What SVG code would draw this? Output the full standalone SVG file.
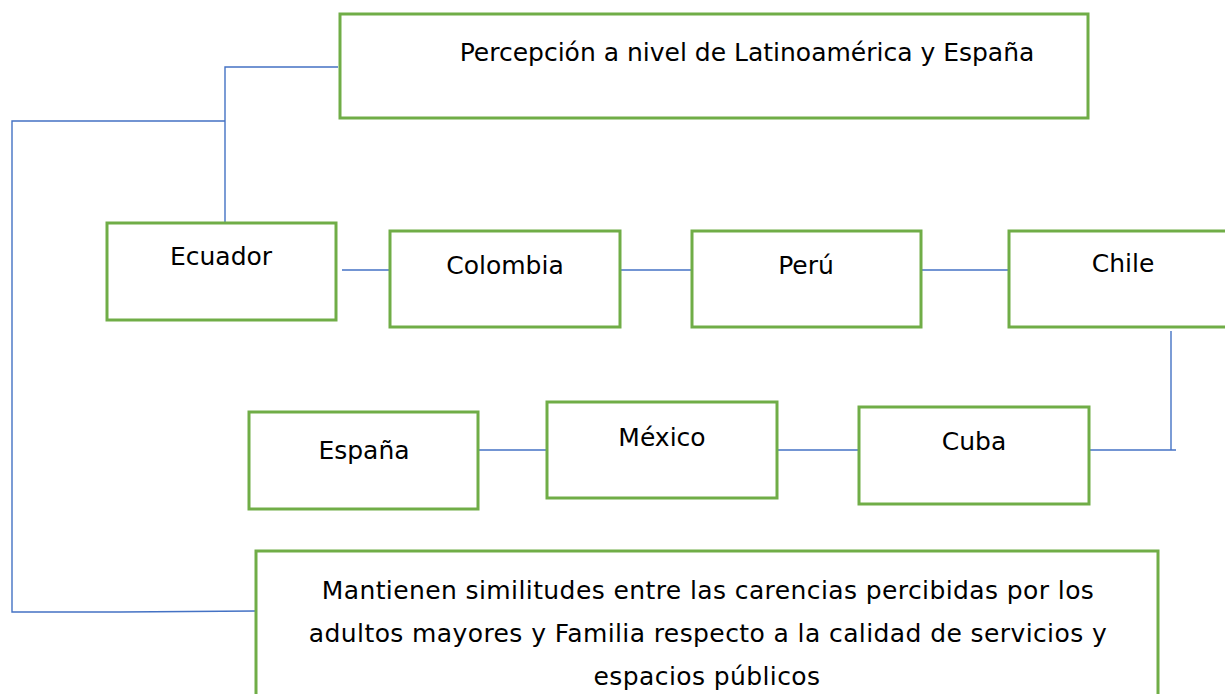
<svg xmlns="http://www.w3.org/2000/svg" width="1225" height="694" viewBox="0 0 1225 694">
<style>
.box{fill:#fff;stroke:#70AD47;stroke-width:3}
.lbl{font-family:"DejaVu Sans","Liberation Sans",sans-serif;font-size:25px;fill:#000;text-anchor:middle}
.wide{letter-spacing:0.4px}
.con{fill:none;stroke:#4472C4;stroke-width:1.4}
</style>
<rect width="1225" height="694" fill="#fff"/>
<g id="connectors">
<polyline class="con" points="338,67 225,67 225,222"/>
<polyline class="con" points="225,121 12,121 12,612 120,612 260,611"/>
<line class="con" x1="342" y1="270" x2="390" y2="270"/>
<line class="con" x1="620" y1="270" x2="692" y2="270"/>
<line class="con" x1="921" y1="270" x2="1009" y2="270"/>
<line class="con" x1="1171" y1="331" x2="1171" y2="450"/>
<line class="con" x1="1089" y1="450" x2="1176" y2="450"/>
<line class="con" x1="478" y1="450" x2="547" y2="450"/>
<line class="con" x1="777" y1="450" x2="859" y2="450"/>
</g>
<g id="n-top"><rect class="box" x="340" y="14" width="748" height="104"/><text class="lbl" x="747" y="61">Percepción a nivel de Latinoamérica y España</text></g>
<g id="n-ecuador"><rect class="box" x="107" y="223" width="229" height="97"/><text class="lbl" x="221" y="265">Ecuador</text></g>
<g id="n-colombia"><rect class="box" x="390" y="231" width="230" height="96"/><text class="lbl" x="505" y="274">Colombia</text></g>
<g id="n-peru"><rect class="box" x="692" y="231" width="229" height="96"/><text class="lbl" x="806" y="274">Perú</text></g>
<g id="n-chile"><rect class="box" x="1009" y="231" width="230" height="96"/><text class="lbl" x="1123" y="272">Chile</text></g>
<g id="n-espana"><rect class="box" x="249" y="412" width="229" height="97"/><text class="lbl" x="364" y="459">España</text></g>
<g id="n-mexico"><rect class="box" x="547" y="402" width="230" height="96"/><text class="lbl" x="662" y="446">México</text></g>
<g id="n-cuba"><rect class="box" x="859" y="407" width="230" height="97"/><text class="lbl" x="974" y="450">Cuba</text></g>
<g id="n-bottom"><rect class="box" x="256" y="551" width="902" height="160"/>
<text class="lbl wide" x="708" y="599">Mantienen similitudes entre las carencias percibidas por los</text>
<text class="lbl wide" x="708" y="642">adultos mayores y Familia respecto a la calidad de servicios y</text>
<text class="lbl wide" x="707" y="685">espacios públicos</text></g>
</svg>
